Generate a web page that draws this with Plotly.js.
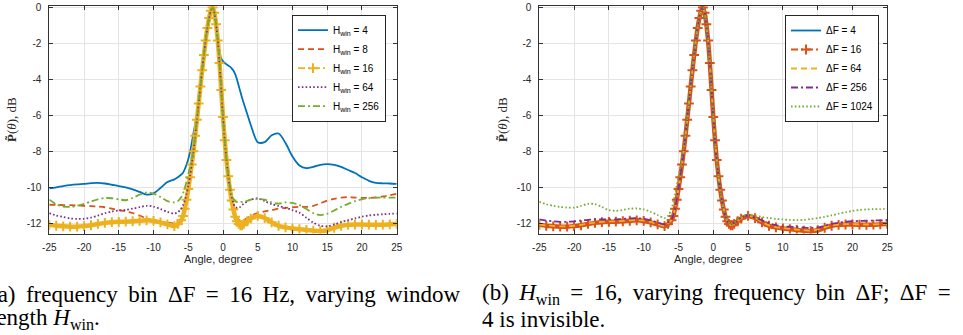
<!DOCTYPE html>
<html>
<head>
<meta charset="utf-8">
<script src="https://cdn.plot.ly/plotly-3.0.1.min.js"></script>
<style>
  html, body { margin: 0; padding: 0; background: #fff; }
  #chart { width: 963px; height: 335px; }
</style>
</head>
<body>
<div id="chart"></div>
<script>
// Angle grid (degrees): coarse on the side lobes, fine across the main lobe.
const ANGLE = [
  -25, -24, -23, -22, -21, -20, -19, -18, -17, -16, -15, -14, -13, -12, -11, -10, -9, -8, -7,
  -6.5, -6,
  -5.75, -5.5, -5.25, -5, -4.75, -4.5, -4.25, -4, -3.75, -3.5, -3.25, -3,
  -2.75, -2.5, -2.25, -2, -1.75, -1.5, -1.25, -1, -0.75, -0.5, -0.25, 0,
  0.25, 0.5, 0.75, 1, 1.25, 1.5, 1.75, 2, 2.25, 2.5, 2.75, 3,
  3.5, 4,
  5, 6, 7, 8, 9, 10, 11, 12, 13, 14, 15, 16, 17, 18, 19, 20, 21, 22, 23, 24, 25
];

// (a) window length H_win, frequency bin 16 Hz — normalised power, dB
const P_H4 = [
  -10.07, -10.02, -9.94, -9.89, -9.85, -9.82, -9.78, -9.76, -9.80, -9.87, -9.94, -10.02, -10.13, -10.27, -10.42, -10.35, -10.05, -9.72, -9.57,
  -9.45, -9.30,
  -9.20, -9.00, -8.75, -8.45, -8.05, -7.55, -7.00, -6.50, -5.95, -5.20, -4.35, -3.45,
  -2.60, -1.80, -1.10, -0.55, -0.18, -0.02, -0.30, -0.95, -1.75, -2.45, -2.85, -3.00,
  -3.10, -3.17, -3.24, -3.30, -3.40, -3.52, -3.72, -4.00, -4.35, -4.70, -5.05, -5.35,
  -5.95, -6.55,
  -7.50, -7.50, -7.12, -7.02, -7.55, -8.30, -8.80, -8.95, -8.88, -8.76, -8.72, -8.76, -8.88, -9.05, -9.22, -9.45, -9.65, -9.76, -9.79, -9.80, -9.82
];
const P_H8 = [
  -10.98, -10.99, -11.00, -11.00, -11.02, -11.04, -11.06, -11.08, -11.12, -11.20, -11.28, -11.35, -11.44, -11.58, -11.75, -11.85, -11.92, -11.98, -12.02,
  -11.92, -11.72,
  -11.45, -11.05, -10.55, -10.00, -9.40, -8.72, -7.98, -7.13, -6.24, -5.34, -4.39, -3.49,
  -2.64, -1.84, -1.14, -0.59, -0.19, -0.02, -0.30, -0.95, -1.85, -3.10, -4.60, -6.10,
  -7.40, -8.50, -9.40, -10.12, -10.70, -11.18, -11.50, -11.70, -11.80, -11.85, -11.85, -11.82,
  -11.72, -11.60,
  -11.45, -11.35, -11.28, -11.20, -11.15, -11.12, -11.10, -11.10, -11.05, -10.90, -10.75, -10.65, -10.58, -10.56, -10.58, -10.60, -10.60, -10.57, -10.52, -10.45, -10.37
];
// H_win = 16 with a 16 Hz bin: the same configuration appears in both panels
const P_H16_DF16 = [
  -12.10, -12.15, -12.18, -12.20, -12.20, -12.17, -12.12, -12.05, -11.99, -11.95, -11.93, -11.92, -11.90, -11.87, -11.85, -11.88, -11.96, -12.07, -12.17,
  -12.05, -11.85,
  -11.60, -11.20, -10.70, -10.10, -9.45, -8.75, -8.00, -7.15, -6.25, -5.35, -4.40, -3.50,
  -2.65, -1.85, -1.15, -0.60, -0.20, -0.02, -0.30, -0.95, -1.85, -3.10, -4.60, -6.10,
  -7.40, -8.50, -9.40, -10.15, -10.75, -11.25, -11.65, -11.90, -12.05, -12.13, -12.12, -12.05,
  -11.90, -11.75,
  -11.60, -11.72, -11.96, -12.15, -12.24, -12.30, -12.34, -12.38, -12.42, -12.45, -12.40, -12.26, -12.15, -12.10, -12.08, -12.08, -12.09, -12.10, -12.09, -12.07, -12.05
];
const P_H64 = [
  -11.45, -11.58, -11.66, -11.74, -11.77, -11.76, -11.70, -11.58, -11.45, -11.36, -11.30, -11.27, -11.20, -11.12, -11.04, -11.08, -11.22, -11.38, -11.47,
  -11.40, -11.20,
  -11.00, -10.75, -10.40, -9.95, -9.40, -8.72, -7.98, -7.13, -6.24, -5.34, -4.39, -3.49,
  -2.64, -1.84, -1.14, -0.59, -0.19, -0.02, -0.30, -0.95, -1.85, -3.10, -4.60, -6.10,
  -7.40, -8.48, -9.35, -10.05, -10.55, -10.90, -11.10, -11.15, -11.15, -11.10, -11.00, -10.92,
  -10.80, -10.70,
  -10.63, -10.78, -10.95, -11.05, -11.15, -11.28, -11.42, -11.70, -11.98, -12.15, -12.18, -12.08, -11.95, -11.84, -11.74, -11.65, -11.58, -11.54, -11.51, -11.49, -11.47
];
const P_H256 = [
  -10.70, -10.95, -11.08, -11.10, -11.04, -10.93, -10.80, -10.68, -10.61, -10.62, -10.68, -10.73, -10.60, -10.42, -10.30, -10.36, -10.55, -10.78, -10.85,
  -10.78, -10.55,
  -10.35, -10.05, -9.70, -9.30, -8.90, -8.45, -7.90, -7.10, -6.24, -5.34, -4.39, -3.49,
  -2.64, -1.84, -1.14, -0.59, -0.19, -0.02, -0.30, -0.95, -1.85, -3.10, -4.60, -6.10,
  -7.40, -8.45, -9.30, -9.95, -10.40, -10.65, -10.78, -10.83, -10.84, -10.83, -10.82, -10.80,
  -10.76, -10.70,
  -10.66, -10.70, -10.85, -10.92, -10.85, -10.88, -11.00, -11.22, -11.45, -11.56, -11.48, -11.30, -11.10, -10.93, -10.78, -10.68, -10.62, -10.59, -10.58, -10.58, -10.58
];

// (b) frequency bin ΔF, H_win = 16 — normalised power, dB
const P_DF4 = [
  -12.11, -12.16, -12.19, -12.21, -12.21, -12.18, -12.13, -12.06, -12.00, -11.96, -11.94, -11.93, -11.91, -11.88, -11.86, -11.89, -11.97, -12.08, -12.18,
  -12.06, -11.86,
  -11.61, -11.21, -10.71, -10.11, -9.46, -8.76, -8.01, -7.16, -6.26, -5.36, -4.41, -3.51,
  -2.66, -1.86, -1.16, -0.61, -0.21, -0.02, -0.31, -0.96, -1.86, -3.11, -4.61, -6.11,
  -7.41, -8.51, -9.41, -10.16, -10.76, -11.26, -11.66, -11.91, -12.06, -12.14, -12.13, -12.06,
  -11.91, -11.76,
  -11.61, -11.73, -11.97, -12.16, -12.25, -12.31, -12.35, -12.39, -12.43, -12.46, -12.41, -12.27, -12.16, -12.11, -12.09, -12.09, -12.10, -12.11, -12.10, -12.08, -12.06
];
const P_DF64 = [
  -12.08, -12.13, -12.16, -12.18, -12.18, -12.15, -12.10, -12.03, -11.97, -11.93, -11.91, -11.90, -11.88, -11.85, -11.83, -11.86, -11.94, -12.05, -12.15,
  -12.03, -11.83,
  -11.58, -11.18, -10.68, -10.08, -9.43, -8.74, -7.99, -7.14, -6.24, -5.34, -4.39, -3.49,
  -2.64, -1.84, -1.14, -0.59, -0.19, -0.02, -0.30, -0.95, -1.85, -3.10, -4.60, -6.10,
  -7.40, -8.50, -9.40, -10.14, -10.74, -11.24, -11.63, -11.88, -12.03, -12.11, -12.10, -12.03,
  -11.88, -11.73,
  -11.59, -11.71, -11.94, -12.13, -12.22, -12.28, -12.32, -12.36, -12.39, -12.42, -12.37, -12.24, -12.13, -12.08, -12.06, -12.06, -12.07, -12.08, -12.07, -12.05, -12.03
];
const P_DF256 = [
  -11.80, -11.86, -11.90, -11.93, -11.93, -11.90, -11.86, -11.82, -11.80, -11.80, -11.80, -11.79, -11.77, -11.74, -11.73, -11.76, -11.85, -11.97, -12.07,
  -11.98, -11.80,
  -11.56, -11.18, -10.68, -10.08, -9.43, -8.74, -7.99, -7.14, -6.24, -5.34, -4.39, -3.49,
  -2.64, -1.84, -1.14, -0.59, -0.19, -0.02, -0.30, -0.95, -1.85, -3.10, -4.60, -6.10,
  -7.40, -8.50, -9.40, -10.14, -10.74, -11.24, -11.63, -11.88, -12.02, -12.08, -12.05, -11.98,
  -11.84, -11.70,
  -11.58, -11.70, -11.85, -12.00, -12.12, -12.18, -12.20, -12.22, -12.25, -12.27, -12.25, -12.15, -12.05, -11.98, -11.93, -11.90, -11.88, -11.87, -11.86, -11.85, -11.84
];
const P_DF1024 = [
  -10.82, -10.95, -11.04, -11.10, -11.14, -11.14, -11.05, -10.93, -10.95, -11.10, -11.28, -11.32, -11.27, -11.20, -11.19, -11.24, -11.37, -11.55, -11.72,
  -11.60, -11.20,
  -10.85, -10.40, -9.90, -9.40, -8.90, -8.40, -7.80, -7.05, -6.20, -5.32, -4.38, -3.48,
  -2.64, -1.84, -1.14, -0.59, -0.19, -0.02, -0.30, -0.95, -1.85, -3.10, -4.60, -6.10,
  -7.40, -8.50, -9.40, -10.14, -10.74, -11.24, -11.60, -11.85, -11.98, -12.04, -12.04, -11.98,
  -11.80, -11.65,
  -11.55, -11.60, -11.66, -11.72, -11.77, -11.80, -11.83, -11.84, -11.82, -11.78, -11.72, -11.65, -11.57, -11.48, -11.40, -11.32, -11.27, -11.24, -11.23, -11.22, -11.21
];

// Legend labels
const H_WIN_LABELS = ['H<sub>win</sub> = 4', 'H<sub>win</sub> = 8', 'H<sub>win</sub> = 16', 'H<sub>win</sub> = 64', 'H<sub>win</sub> = 256'];
const DF_LABELS = ['ΔF = 4', 'ΔF = 16', 'ΔF = 64', 'ΔF = 256', 'ΔF = 1024'];

// Axis ticks
const X_TICKS = [-25, -20, -15, -10, -5, 0, 5, 10, 15, 20, 25];
const X_TICK_LABELS = ['-25', '-20', '-15', '-10', '-5', '0', '5', '10', '15', '20', '25'];
const Y_TICKS = [-12, -10, -8, -6, -4, -2, 0];
const Y_TICK_LABELS = ['-12', '-10', '-8', '-6', '-4', '-2', '0'];

// Line colours (MATLAB default order)
const C_BLUE = '#0072BD', C_ORANGE = '#D95319', C_YELLOW = '#EDB120', C_PURPLE = '#7E2F8E', C_GREEN = '#77AC30';
const DASH = '6px,4px', DOT = '1.6px,2.2px', DASHDOT = '7px,3px,2px,3px';
const LW = 1.8;

function curve(y, name, color, dash, axis, legend) {
  return {
    type: 'scatter', mode: 'lines', x: ANGLE, y: y, name: name,
    xaxis: axis === 2 ? 'x2' : 'x', yaxis: axis === 2 ? 'y2' : 'y',
    legend: legend,
    line: { color: color, width: LW, dash: dash, shape: 'spline', smoothing: 0.8 },
    hoverinfo: 'skip'
  };
}
// Curve drawn with dense '+' markers: a thick band under a marked dash-dot line
function markedCurve(y, name, color, axis, legend) {
  const band = {
    type: 'scatter', mode: 'lines', x: ANGLE, y: y, showlegend: false,
    xaxis: axis === 2 ? 'x2' : 'x', yaxis: axis === 2 ? 'y2' : 'y',
    line: { color: color, width: 4.5, shape: 'spline', smoothing: 0.8 },
    hoverinfo: 'skip'
  };
  const main = curve(y, name, color, DASHDOT, axis, legend);
  main.mode = 'lines+markers';
  main.marker = { symbol: 'cross-thin', size: 7, color: color, line: { color: color, width: 2 } };
  return [band, main];
}

const traces = [
  curve(P_H4, H_WIN_LABELS[0], C_BLUE, 'solid', 1, 'legend'),
  curve(P_H8, H_WIN_LABELS[1], C_ORANGE, DASH, 1, 'legend'),
  ...markedCurve(P_H16_DF16, H_WIN_LABELS[2], C_YELLOW, 1, 'legend'),
  curve(P_H64, H_WIN_LABELS[3], C_PURPLE, DOT, 1, 'legend'),
  curve(P_H256, H_WIN_LABELS[4], C_GREEN, DASHDOT, 1, 'legend'),

  curve(P_DF4, DF_LABELS[0], C_BLUE, 'solid', 2, 'legend2'),
  ...markedCurve(P_H16_DF16, DF_LABELS[1], C_ORANGE, 2, 'legend2'),
  curve(P_DF64, DF_LABELS[2], C_YELLOW, DASH, 2, 'legend2'),
  curve(P_DF256, DF_LABELS[3], C_PURPLE, DASHDOT, 2, 'legend2'),
  curve(P_DF1024, DF_LABELS[4], C_GREEN, DOT, 2, 'legend2')
];

const W = 963, H = 335;
const px = v => v / W;          // horizontal pixel -> paper
const py = v => 1 - v / H;      // vertical pixel (from top) -> paper

const AX_FONT = { family: 'Liberation Sans, Arial, sans-serif', size: 10, color: '#262626' };
function xAxis(domain, anchor) {
  return {
    domain: domain, anchor: anchor, range: [-25, 25],
    tickmode: 'array', tickvals: X_TICKS, ticktext: X_TICK_LABELS,
    ticks: 'inside', ticklen: 4, tickwidth: 1, tickcolor: '#333',
    showline: true, linecolor: '#333', linewidth: 1, mirror: 'ticks',
    showgrid: true, gridcolor: '#e4e4e4', gridwidth: 1, zeroline: false,
    tickfont: AX_FONT, ticklabelstandoff: 4, fixedrange: true
  };
}
function yAxis(anchor) {
  return {
    domain: [py(233.5), py(6)], anchor: anchor, range: [-12.58, 0.07],
    tickmode: 'array', tickvals: Y_TICKS, ticktext: Y_TICK_LABELS,
    ticks: 'inside', ticklen: 4, tickwidth: 1, tickcolor: '#333',
    showline: true, linecolor: '#333', linewidth: 1, mirror: 'ticks',
    showgrid: true, gridcolor: '#e4e4e4', gridwidth: 1, zeroline: false,
    tickfont: AX_FONT, ticklabelstandoff: 5, fixedrange: true
  };
}
const LEG = {
  xanchor: 'left', yanchor: 'top', bgcolor: '#ffffff',
  bordercolor: '#262626', borderwidth: 1,
  font: { family: 'Liberation Sans, Arial, sans-serif', size: 10, color: '#000' },
  itemwidth: 30, traceorder: 'normal', tracegroupgap: 0
};

// Captions set as justified lines: a thin space widens each word gap
const SERIF = 'Liberation Serif, Times New Roman, serif';
const CAP_FONT = { family: SERIF, size: 23, color: '#000' };
const justify = s => s.replace(/ /g, ' \u2009');
const annotations = [
  { text: 'Angle, degree', x: px(218), y: py(259), xanchor: 'center', yanchor: 'middle',
    font: { family: 'Liberation Sans, Arial, sans-serif', size: 11, color: '#262626' } },
  { text: 'Angle, degree', x: px(708), y: py(259), xanchor: 'center', yanchor: 'middle',
    font: { family: 'Liberation Sans, Arial, sans-serif', size: 11, color: '#262626' } },
  { text: '<b>P̃</b>(<i>θ</i>), dB', x: px(12), y: py(120), textangle: -90,
    xanchor: 'center', yanchor: 'middle', font: { family: SERIF, size: 13, color: '#262626' } },
  { text: '<b>P̃</b>(<i>θ</i>), dB', x: px(503), y: py(120), textangle: -90,
    xanchor: 'center', yanchor: 'middle', font: { family: SERIF, size: 13, color: '#262626' } },
  { text: justify('(a) frequency bin ΔF = 16 Hz, varying window'), x: px(-12), y: py(294),
    xanchor: 'left', yanchor: 'middle', font: CAP_FONT },
  { text: 'length <i>H</i><sub>win</sub>.', x: px(-12), y: py(319),
    xanchor: 'left', yanchor: 'middle', font: CAP_FONT },
  { text: justify('(b) <i>H</i><sub>win</sub> = 16, varying frequency bin ΔF; ΔF ='), x: px(480), y: py(294),
    xanchor: 'left', yanchor: 'middle', font: CAP_FONT },
  { text: '4 is invisible.', x: px(480), y: py(319),
    xanchor: 'left', yanchor: 'middle', font: CAP_FONT }
].map(a => Object.assign({ xref: 'paper', yref: 'paper', showarrow: false }, a));

const layout = {
  width: W, height: H,
  margin: { l: 0, r: 0, t: 0, b: 0, pad: 0 },
  paper_bgcolor: '#ffffff', plot_bgcolor: '#ffffff',
  xaxis: xAxis([px(49.3), px(396.7)], 'y'),
  yaxis: yAxis('x'),
  xaxis2: xAxis([px(539.3), px(887.3)], 'y2'),
  yaxis2: yAxis('x2'),
  legend: Object.assign({ x: px(292), y: py(14.7) }, LEG),
  legend2: Object.assign({ x: px(785), y: py(15) }, LEG),
  annotations: annotations,
  showlegend: true
};

Plotly.newPlot('chart', traces, layout, { displayModeBar: false, staticPlot: true });
</script>
</body>
</html>
